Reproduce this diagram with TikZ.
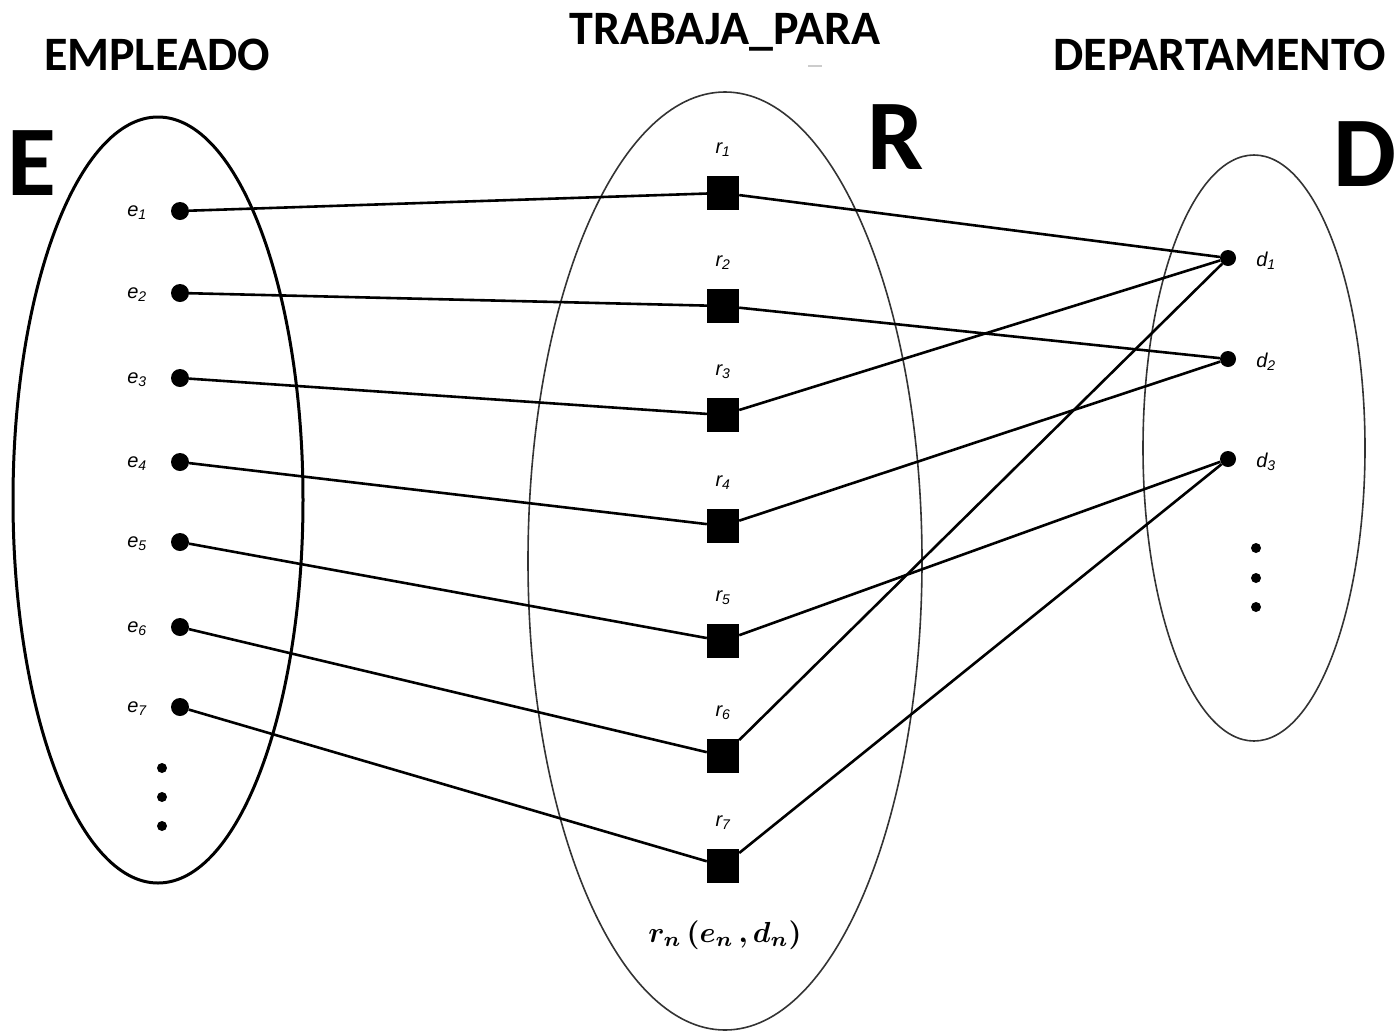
\documentclass[tikz,border=0pt]{standalone}
\usepackage{fontspec}
\usepackage{amsmath,bm}
\setmainfont{Carlito}
\newfontfamily\lblfont{Liberation Sans}
\begin{document}
\begin{tikzpicture}[x=1pt,y=-1pt,
  edot/.style={circle,fill=black,inner sep=0pt,minimum size=18pt},
  vdot/.style={circle,fill=black,inner sep=0pt,minimum size=10pt},
  rsq/.style={rectangle,fill=black,inner sep=0pt,minimum width=32pt,minimum height=34pt},
  conn/.style={line width=2.6pt},
  settitle/.style={font=\fontsize{48}{52}\selectfont\bfseries},
  setbig/.style={font=\fontsize{100}{110}\selectfont\bfseries},
  lbl/.style={font=\lblfont\itshape\fontsize{20}{22}\selectfont, inner sep=0pt}]
\useasboundingbox (0,0) rectangle (1400,1034);
% sets
\draw[line width=3pt] (158,500) ellipse [x radius=145pt, y radius=383pt];
\draw[line width=1.6pt, black!80] (725,561) ellipse [x radius=197pt, y radius=469pt];
\draw[line width=1.6pt, black!80] (1254,448) ellipse [x radius=111pt, y radius=293pt];
% titles
\node[settitle] (tE) at (157,55) {EMPLEADO};
\node[settitle] (tR) at (725,32) {TRABAJA\_PARA};
\node[settitle] (tD) at (1220,55) {DEPARTAMENTO};
\draw[gray!40, line width=2pt] (808,66) -- (822,66);
\node[setbig] (bE) at (32,163) {E};
\node[setbig] (bR) at (896,137) {R};
\node[setbig] (bD) at (1365,154) {D};
% employees
\foreach \i/\y in {1/211,2/293,3/378,4/462,5/542,6/627,7/707}{
  \node[edot] (e\i) at (180,\y) {};
  \node[lbl] (le\i) at (137,\y+2) {e\textsubscript{\i}};
}
\node[vdot] (ev1) at (162,768) {};
\node[vdot] (ev2) at (162,797) {};
\node[vdot] (ev3) at (162,826) {};
% relationships
\foreach \i/\y in {1/193,2/306,3/415,4/526,5/641,6/756,7/866}{
  \node[rsq] (r\i) at (723,\y) {};
  \node[lbl] (lr\i) at (723,\y-43) {r\textsubscript{\i}};
}
\node[scale=2.9] (rn) at (725,935) {$\bm{r_n\,(e_n\,,d_n)}$};
% departments
\foreach \i/\y in {1/258,2/359,3/459}{
  \node[edot, minimum size=16pt] (d\i) at (1228,\y) {};
  \node[lbl] (ld\i) at (1266,\y+3) {d\textsubscript{\i}};
}
\node[vdot] (dv1) at (1256,548) {};
\node[vdot] (dv2) at (1256,578) {};
\node[vdot] (dv3) at (1256,607) {};
% connectors
\foreach \i in {1,...,7}{ \draw[conn] (e\i) -- (r\i); }
\draw[conn] (r1) -- (d1);
\draw[conn] (r2) -- (d2);
\draw[conn] (r3) -- (d1);
\draw[conn] (r4) -- (d2);
\draw[conn] (r5) -- (d3);
\draw[conn] (r6) -- (d1);
\draw[conn] (r7) -- (d3);
\end{tikzpicture}
\end{document}
